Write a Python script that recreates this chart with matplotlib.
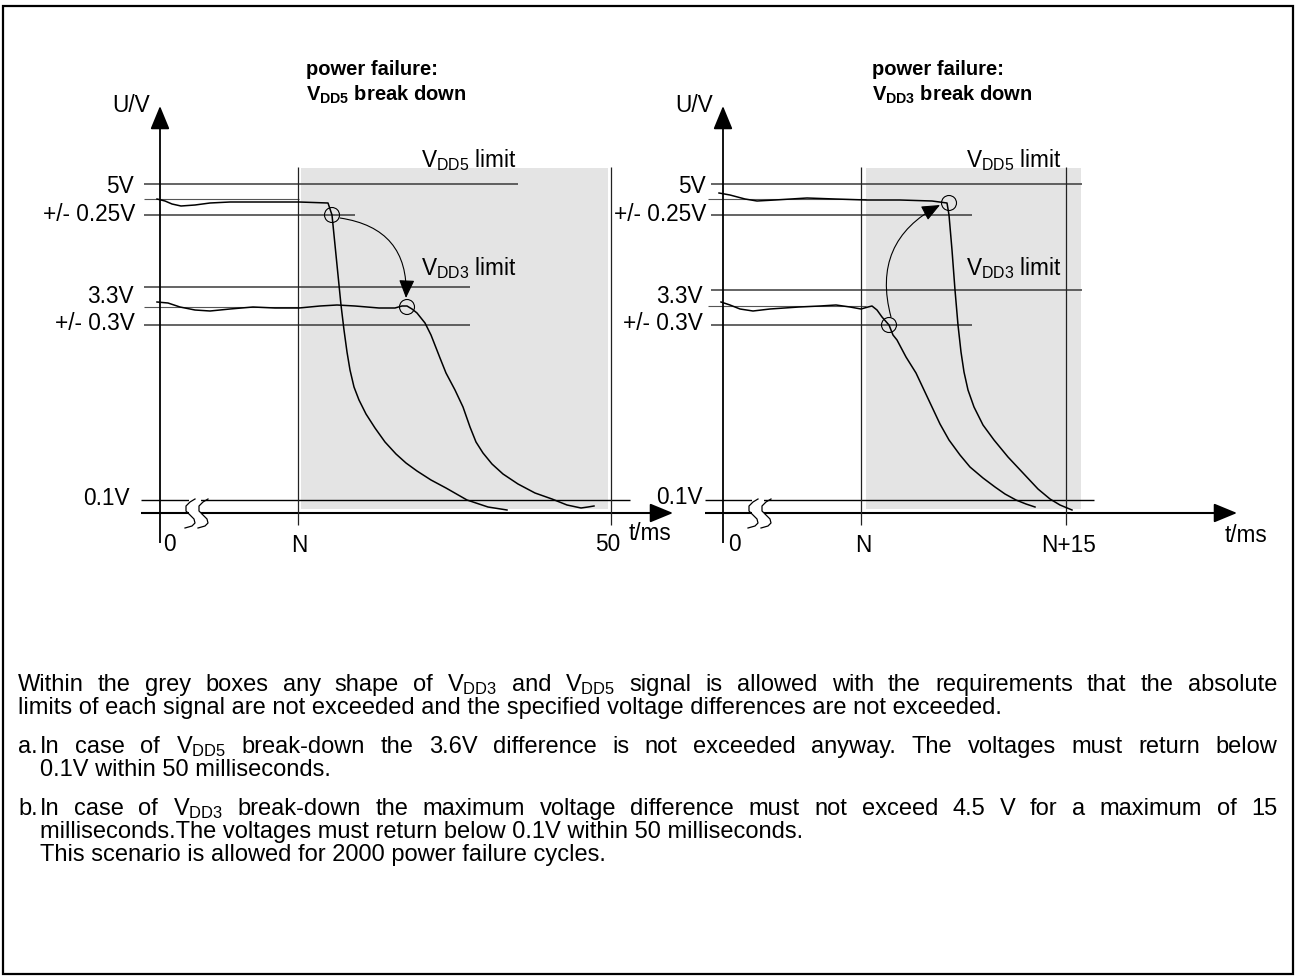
import matplotlib
matplotlib.use("Agg")
import matplotlib.pyplot as plt
from matplotlib.patches import Rectangle, Circle, FancyArrowPatch

plt.rcParams['font.family'] = ['Liberation Sans', 'DejaVu Sans']
plt.rcParams['mathtext.fontset'] = 'custom'
plt.rcParams['mathtext.rm'] = 'Liberation Sans'
plt.rcParams['mathtext.it'] = 'Liberation Sans:italic'
plt.rcParams['mathtext.bf'] = 'Liberation Sans:bold'

# traced signal shapes (drawing units, y grows downward)
p1_vdd5_x = [157, 165, 172, 181, 195, 210, 230, 260, 299, 328, 332, 335, 338, 341, 344, 347, 350, 354, 359, 366, 375, 385, 396, 406, 417, 431, 446, 467, 488, 507]
p1_vdd5_y = [199, 201, 204, 206, 205, 203, 202, 202, 202, 203, 215, 245, 275, 305, 330, 352, 370, 387, 400, 414, 428, 442, 454, 463, 471, 480, 488, 500, 507, 510]
p1_vdd3_x = [157, 168, 180, 195, 210, 230, 253, 275, 299, 320, 337, 355, 379, 395, 402, 407, 412, 417, 425, 431, 440, 446, 455, 463, 470, 476, 483, 492, 503, 518, 535, 552, 567, 581, 588, 594]
p1_vdd3_y = [302, 303, 307, 310, 311, 309, 307, 308, 308, 306, 305, 306, 308, 308, 306, 306, 309, 313, 323, 335, 358, 373, 390, 407, 427, 442, 453, 464, 474, 484, 493, 499, 505, 508, 507, 506]
p2_vdd5_x = [719, 730, 745, 757, 775, 807, 835, 866, 900, 932, 947, 949, 952, 955, 958, 961, 964, 968, 974, 983, 994, 1008, 1023, 1038, 1050, 1060, 1072]
p2_vdd5_y = [193, 195, 199, 201, 200, 198, 199, 200, 200, 201, 203, 215, 250, 290, 325, 352, 372, 390, 407, 425, 440, 457, 473, 489, 499, 505, 510]
p2_vdd3_x = [721, 730, 740, 753, 770, 799, 820, 836, 850, 861, 868, 872, 877, 882, 889, 893, 897, 906, 916, 924, 932, 940, 949, 960, 970, 983, 995, 1005, 1016, 1026, 1035]
p2_vdd3_y = [302, 305, 309, 311, 309, 307, 306, 305, 307, 309, 307, 306, 310, 317, 325, 335, 340, 357, 373, 390, 407, 424, 440, 455, 467, 478, 487, 494, 500, 504, 507]

level_labels = ['5V', '+/- 0.25V', '3.3V', '+/- 0.3V', '0.1V']
p1_ticks = ['0', 'N', '50']
p2_ticks = ['0', 'N', 'N+15']

fig = plt.figure(figsize=(12.95, 9.76), dpi=100)
ax = fig.add_axes([0, 0, 1, 1])
ax.set_xlim(0, 1295)
ax.set_ylim(976, 0)
ax.axis('off')

FS = 16.3
BODY_FS = 17
GREY = '#e4e4e4'
LC = '#3a3a3a'

# outer frame
ax.add_patch(Rectangle((3, 6), 1290, 968, fill=False, lw=1.6, ec='black'))


def hline(y, x0, x1, color=LC, lw=1.1, z=2):
    ax.plot([x0, x1], [y, y], color=color, lw=lw, zorder=z, solid_capstyle='butt')


def vline(x, y0, y1, color='black', lw=0.8, z=2):
    ax.plot([x, x], [y0, y1], color=color, lw=lw, zorder=z, solid_capstyle='butt')


def arrow(x0, y0, x1, y1):
    ax.annotate('', xy=(x1, y1), xytext=(x0, y0),
                arrowprops=dict(arrowstyle='-|>,head_length=0.8,head_width=0.33',
                                lw=1.3, color='black', shrinkA=0, shrinkB=0,
                                mutation_scale=18), zorder=4)


def break_mark(xc, yc):
    sx = [4, -1, -5, -5, -1, 3, 4, 1, -6]
    sy = [-14, -11, -7, -2, 2, 6, 10, 13, 15]
    for dx in (0, 13):
        ax.plot([xc + dx + a for a in sx], [yc + b for b in sy], color='black', lw=0.9, zorder=6)
    ax.add_patch(Rectangle((xc - 2, yc - 16), 12, 32, fc='white', ec='none', zorder=5))


def panel(cfg):
    ax0 = cfg['axis_x']
    bx0, bx1 = cfg['box']
    ax.add_patch(Rectangle((bx0, 168), bx1 - bx0, 341, fc=GREY, ec='none', zorder=0))
    for y, x0, x1 in cfg['levels']:
        hline(y, x0, x1)
    for y in cfg['nominal']:
        hline(y, cfg['left'] + 3, cfg['nom_end'], color='#555555', lw=0.8)
    hline(500, cfg['left'], cfg['tenth_end'], color='black', lw=1.0)
    hline(513, cfg['left'], cfg['taxis_end'] - 14, color='black', lw=1.5)
    arrow(cfg['taxis_end'] - 16, 513, cfg['taxis_end'], 513)
    vline(ax0, 543, 125, lw=1.3)
    arrow(ax0, 125, ax0, 106)
    for x in cfg['vlines']:
        vline(x, 167, 525, color='#222222', lw=0.9)
    break_mark(cfg['break_x'], 513)
    for xs, ys in cfg['signals']:
        ax.plot(xs, ys, color='black', lw=1.1, zorder=3, solid_joinstyle='round')
    for cx, cy in cfg['circles']:
        ax.add_patch(Circle((cx, cy), 7.5, fill=False, ec='black', lw=0.8, zorder=4))
    (sa, sb, rad) = cfg['curve_arrow']
    ax.add_patch(FancyArrowPatch(sa, sb, connectionstyle='arc3,rad=%s' % rad,
                                 arrowstyle='-|>,head_length=0.7,head_width=0.3',
                                 mutation_scale=16, lw=0.8, color='black', zorder=4,
                                 shrinkA=0, shrinkB=0))
    for lab, (x, y) in zip(level_labels, cfg['label_pos']):
        ax.text(x, y, lab, fontsize=FS, ha='right', va='baseline', zorder=6)
    ax.text(ax0 - 29, 112, 'U/V', fontsize=FS, ha='center', va='baseline')
    for lab, (x, y) in zip(cfg['ticks'], cfg['tick_pos']):
        ax.text(x, y, lab, fontsize=FS, ha='center', va='baseline')
    ax.text(cfg['tms'][0], cfg['tms'][1], 't/ms', fontsize=FS, ha='left', va='baseline')
    lx = cfg['limit_x']
    ax.text(lx, 167, r'V$_{\mathregular{DD5}}$ limit', fontsize=FS, ha='left', va='baseline', zorder=6)
    ax.text(lx, 275, r'V$_{\mathregular{DD3}}$ limit', fontsize=FS, ha='left', va='baseline', zorder=6)
    tx = cfg['title_x']
    ax.text(tx, 75, 'power failure:', fontsize=14.5, fontweight='bold', ha='left', va='baseline')
    ax.text(tx, 101, cfg['title2'], fontsize=14.5, fontweight='bold', ha='left', va='baseline')


panel(dict(
    axis_x=160, left=141, box=(301, 608),
    levels=[(184, 144, 518), (215, 144, 355), (287, 144, 470), (325, 144, 470)],
    nominal=[199, 307], nom_end=299,
    tenth_end=630, taxis_end=673, vlines=[298, 611], break_x=191,
    signals=[(p1_vdd5_x, p1_vdd5_y), (p1_vdd3_x, p1_vdd3_y)],
    circles=[(332, 215), (407, 307)],
    curve_arrow=((340, 218), (406, 298), -0.45),
    label_pos=[(134, 193), (135, 221), (134, 303), (135, 330), (130, 505)],
    ticks=p1_ticks, tick_pos=[(169, 551), (299, 552), (608, 551)],
    tms=(629, 540), limit_x=421, title_x=306,
    title2=r'V$_{\mathbf{DD5}}$ break down',
))

panel(dict(
    axis_x=723, left=705, box=(866, 1081),
    levels=[(184, 711, 1082), (215, 711, 972), (290, 711, 1082), (325, 711, 972)],
    nominal=[199, 306], nom_end=866,
    tenth_end=1094, taxis_end=1237, vlines=[861, 1066], break_x=754,
    signals=[(p2_vdd5_x, p2_vdd5_y), (p2_vdd3_x, p2_vdd3_y)],
    circles=[(949, 203), (889, 325)],
    curve_arrow=((891, 317), (940, 205), -0.4),
    label_pos=[(706, 193), (706, 221), (703, 303), (703, 330), (703, 504)],
    ticks=p2_ticks, tick_pos=[(734, 551), (863, 552), (1069, 552)],
    tms=(1225, 542), limit_x=966, title_x=872,
    title2=r'V$_{\mathbf{DD3}}$ break down',
))

# explanatory text, (x, baseline, justify, text)
RIGHT = 1277
body = [
    (18, 691, True, r'Within the grey boxes any shape of V$_{\mathregular{DD3}}$ and V$_{\mathregular{DD5}}$ signal is allowed with the requirements that the absolute'),
    (18, 714, False, 'limits of each signal are not exceeded and the specified voltage differences are not exceeded.'),
    (18, 753, False, 'a.'),
    (40, 753, True, r'In case of V$_{\mathregular{DD5}}$ break-down the 3.6V difference is not exceeded anyway. The voltages must return below'),
    (40, 776, False, '0.1V within 50 milliseconds.'),
    (18, 815, False, 'b.'),
    (40, 815, True, r'In case of V$_{\mathregular{DD3}}$ break-down the maximum voltage difference must not exceed 4.5 V for a maximum of 15'),
    (40, 838, False, 'milliseconds.The voltages must return below 0.1V within 50 milliseconds.'),
    (40, 861, False, 'This scenario is allowed for 2000 power failure cycles.'),
]
renderer = fig.canvas.get_renderer()
for x, y, just, s in body:
    if not just:
        ax.text(x, y, s, fontsize=BODY_FS, ha='left', va='baseline')
        continue
    words = s.split(' ')
    items = [ax.text(0, y, w, fontsize=BODY_FS, ha='left', va='baseline') for w in words]
    widths = [t.get_window_extent(renderer).width for t in items]
    gap = (RIGHT - x - sum(widths)) / (len(words) - 1)
    cx = x
    for t, w in zip(items, widths):
        t.set_x(cx)
        cx += w + gap

fig.savefig('out.png', dpi=100)
